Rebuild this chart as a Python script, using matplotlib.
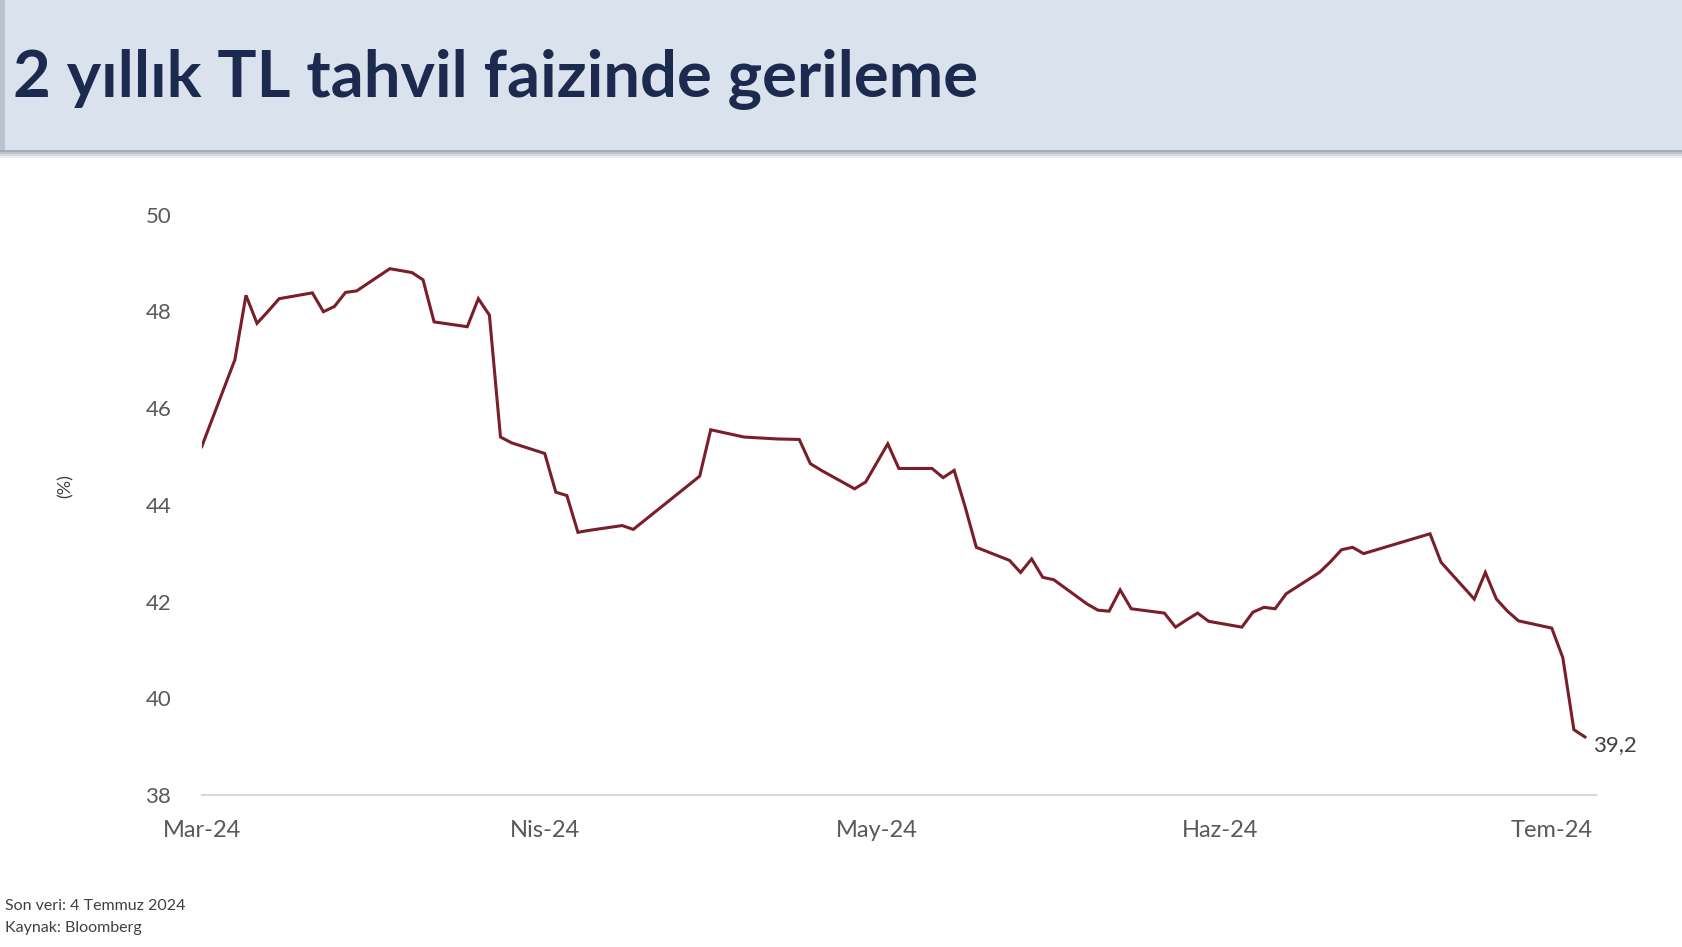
import numpy as np
import matplotlib
matplotlib.use("Agg")
import matplotlib.pyplot as plt
import matplotlib.dates as mdates
from matplotlib.patches import Rectangle

# 2 yillik TL tahvil faizi (%), gunluk kapanislar
dates = [
    "2024-03-01", "2024-03-04", "2024-03-05", "2024-03-06", "2024-03-07", "2024-03-08",
    "2024-03-11", "2024-03-12", "2024-03-13", "2024-03-14", "2024-03-15",
    "2024-03-18", "2024-03-19", "2024-03-20", "2024-03-21", "2024-03-22",
    "2024-03-25", "2024-03-26", "2024-03-27", "2024-03-28", "2024-03-29",
    "2024-04-01", "2024-04-02", "2024-04-03", "2024-04-04", "2024-04-05",
    "2024-04-08", "2024-04-09", "2024-04-15", "2024-04-16", "2024-04-17",
    "2024-04-18", "2024-04-19", "2024-04-22", "2024-04-24", "2024-04-25",
    "2024-04-26", "2024-04-29", "2024-04-30", "2024-05-02", "2024-05-03",
    "2024-05-06", "2024-05-07", "2024-05-08", "2024-05-09", "2024-05-10",
    "2024-05-13", "2024-05-14", "2024-05-15", "2024-05-16", "2024-05-17",
    "2024-05-20", "2024-05-21", "2024-05-22", "2024-05-23", "2024-05-24",
    "2024-05-27", "2024-05-28", "2024-05-29", "2024-05-30", "2024-05-31",
    "2024-06-03", "2024-06-04", "2024-06-05", "2024-06-06", "2024-06-07",
    "2024-06-10", "2024-06-11", "2024-06-12", "2024-06-13", "2024-06-14",
    "2024-06-20", "2024-06-21", "2024-06-24", "2024-06-25", "2024-06-26",
    "2024-06-27", "2024-06-28", "2024-07-01", "2024-07-02", "2024-07-03",
    "2024-07-04",
]
yields = [
    45.20, 47.00, 48.33, 47.75, 48.00, 48.26,
    48.38, 47.99, 48.10, 48.39, 48.42,
    48.88, 48.84, 48.80, 48.65, 47.78,
    47.68, 48.26, 47.92, 45.40, 45.28,
    45.06, 44.26, 44.19, 43.43, 43.47,
    43.57, 43.49, 44.59, 45.55, 45.50,
    45.45, 45.40, 45.36, 45.35, 44.85,
    44.71, 44.33, 44.47, 45.26, 44.75,
    44.75, 44.56, 44.71, 43.95, 43.12,
    42.85, 42.60, 42.88, 42.50, 42.45,
    41.95, 41.82, 41.80, 42.24, 41.85,
    41.76, 41.47, 41.62, 41.76, 41.59,
    41.47, 41.78, 41.88, 41.85, 42.16,
    42.60, 42.82, 43.07, 43.12, 42.99,
    43.40, 42.81, 42.05, 42.60, 42.05,
    41.80, 41.60, 41.45, 40.84, 39.35,
    39.20,
]

tick_dates = ["2024-03-01", "2024-04-01", "2024-05-01", "2024-06-01", "2024-07-01"]
tick_labels = ["Mar-24", "Nis-24", "May-24", "Haz-24", "Tem-24"]
y_ticks = [38, 40, 42, 44, 46, 48, 50]

title = "2 yıllık TL tahvil faizinde gerileme"
notes = ["Son veri: 4 Temmuz 2024", "Kaynak: Bloomberg"]

plt.rcParams['font.family'] = ['Lato', 'DejaVu Sans']

W, H = 1682, 947
fig = plt.figure(figsize=(W / 100, H / 100), dpi=100)
fig.patch.set_facecolor('white')

# title banner
band = 150
fig.patches.append(Rectangle((0, 1 - band / H), 1, band / H, transform=fig.transFigure,
                             facecolor='#dae2ed', edgecolor='none', zorder=0))
fig.patches.append(Rectangle((0, 1 - band / H), 5 / W, band / H, transform=fig.transFigure,
                             facecolor='#b9c4d3', edgecolor='none', zorder=1))
for i, c in enumerate(['#a3abb5', '#bfc4cb', '#d6d9de', '#eaecee']):
    fig.patches.append(Rectangle((0, 1 - (band + i * 2 + 2) / H), 1, 2 / H,
                                 transform=fig.transFigure, facecolor=c,
                                 edgecolor='none', zorder=1))
fig.text(13 / W, 1 - 79 / H, title, fontsize=47, fontweight='bold',
         color='#1b2a4e', ha='left', va='center')

ax = fig.add_axes([201.7 / W, 1 - 795 / H, (1596 - 201.7) / W, (795 - 214.5) / H])
x = np.array(dates, dtype='datetime64[D]')
ax.plot(x, yields, color='#7a1e28', lw=2.2, solid_joinstyle='miter')

x0 = np.datetime64("2024-03-01")
ax.set_xlim(mdates.date2num(x0), mdates.date2num(x0) + 126)
ax.set_ylim(38, 50)
ax.set_yticks(y_ticks)
ax.set_xticks(np.array(tick_dates, dtype='datetime64[D]'))
ax.set_xticklabels(tick_labels)

for s in ['top', 'right', 'left']:
    ax.spines[s].set_visible(False)
ax.spines['bottom'].set_color('#d9d9d9')
ax.spines['bottom'].set_linewidth(1.5)
ax.tick_params(axis='both', length=0, colors='#595959')
ax.tick_params(axis='y', labelsize=16, pad=22)
ax.tick_params(axis='x', labelsize=17, pad=18)

ax.set_ylabel('(%)', fontsize=13, color='#404040', labelpad=0)
ax.yaxis.set_label_coords((74 - 201.7) / (1596 - 201.7), (795 - 486) / (795 - 214.5))

ax.annotate("39,2", xy=(x[-1], yields[-1]), xytext=(6, -6), textcoords='offset points',
            fontsize=16, color='#404040', ha='left', va='center')

for i, t in enumerate(notes):
    fig.text(5 / W, 1 - (906 + i * 22) / H, t, fontsize=11.5, color='#404040',
             ha='left', va='center')

fig.savefig("out.png", dpi=100)
